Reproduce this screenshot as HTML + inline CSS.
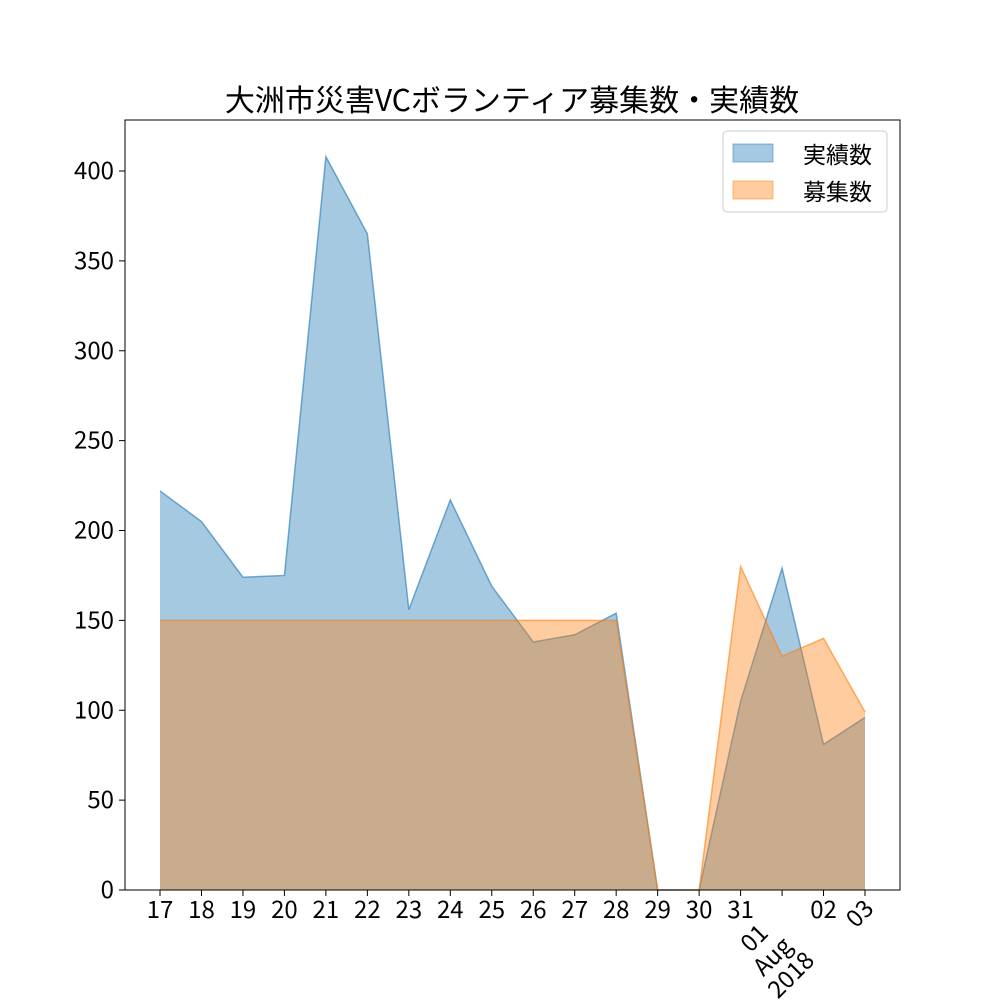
<!DOCTYPE html>
<html><head><meta charset="utf-8"><style>
body{margin:0;background:#fff}
svg text{font-family:"Noto Sans CJK JP","Liberation Sans",sans-serif;fill:#000}
</style></head><body>
<svg id="c" width="1000" height="1000" xmlns="http://www.w3.org/2000/svg">
<text x="512" y="111" font-size="30" text-anchor="middle">大洲市災害VCボランティア募集数・実績数</text>
<g id="plot"></g>
<rect x="125" y="120" width="775" height="770" fill="none" stroke="#000" stroke-width="1"/>
<g id="axes"></g>
<g>
<rect x="723" y="131" width="164" height="81" rx="4" fill="#fff" fill-opacity="0.8" stroke="#ccc"/>
<rect x="733" y="144" width="40" height="18" fill="#1f77b4" fill-opacity="0.4" stroke="#1f77b4" stroke-opacity="0.5"/>
<text x="803" y="163" font-size="23">実績数</text>
<rect x="733" y="181" width="40" height="18" fill="#ff7f0e" fill-opacity="0.4" stroke="#ff7f0e" stroke-opacity="0.5"/>
<text x="803" y="200" font-size="23">募集数</text>
</g>
</svg>
<script>
const categories=["17","18","19","20","21","22","23","24","25","26","27","28","29","30","31","01","02","03"];
const actual=[222,205,174,175,408,365,156,217,169,138,142,154,0,0,105,179,81,96];
const recruit=[150,150,150,150,150,150,150,150,150,150,150,150,0,0,180,130,140,99];
const yTicks=[0,50,100,150,200,250,300,350,400];
const NS="http://www.w3.org/2000/svg";
const x=i=>160+i*(865-160)/(categories.length-1);
const y=v=>890-v*(890-171)/400;
function mk(t,a,p){const e=document.createElementNS(NS,t);for(const k in a)e.setAttribute(k,a[k]);p.appendChild(e);return e;}
const plot=document.getElementById('plot'),axes=document.getElementById('axes');
function area(vals,col,name){
 let d=`M${x(0)},${y(0)}`;vals.forEach((v,i)=>d+=`L${x(i)},${y(v)}`);d+=`L${x(vals.length-1)},${y(0)}Z`;
 const p=mk('path',{d:d,fill:col,'fill-opacity':0.4},plot);
 
 
 let l='';vals.forEach((v,i)=>l+=(i?'L':'M')+x(i)+','+y(v));
 const q=mk('path',{d:l,fill:'none',stroke:col,'stroke-opacity':0.6,'stroke-width':1.5},plot);
 
 
}
area(actual,'#1f77b4','actual');
area(recruit,'#ff7f0e','recruit');
yTicks.forEach(v=>{
 mk('line',{x1:119,x2:125,y1:y(v),y2:y(v),stroke:'#000'},axes);
 const t=mk('text',{x:114,y:y(v)+8,'font-size':24,'text-anchor':'end'},axes);t.textContent=v;
 
 
});
categories.forEach((c,i)=>{
 mk('line',{x1:x(i),x2:x(i),y1:890,y2:896,stroke:'#000'},axes);
 let t;
 if(i===15){
  t=mk('text',{x:0,y:0,'font-size':24,'text-anchor':'middle',transform:`translate(${x(i)-22},${y(0)+54}) rotate(-45)`},axes);
  t.innerHTML='<tspan x="0" dy="0">01</tspan><tspan x="0" dy="26">Aug</tspan><tspan x="0" dy="26">2018</tspan>';
 }else if(i===17){
  t=mk('text',{x:0,y:0,'font-size':24,'text-anchor':'end',transform:`translate(${x(i)+10},${y(0)+20}) rotate(-45)`},axes);t.textContent=c;
 }else{
  t=mk('text',{x:x(i),y:918,'font-size':24,'text-anchor':'middle'},axes);t.textContent=c;
 }
 
 
});
</script>
</body></html>
